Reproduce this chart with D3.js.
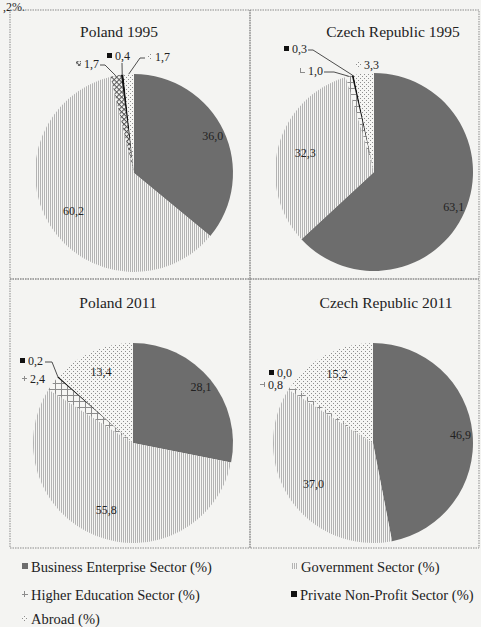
<!DOCTYPE html>
<html>
<head>
<meta charset="utf-8">
<script src="https://cdn.jsdelivr.net/npm/d3@7"></script>
</head>
<body style="margin:0;padding:0;background:#f4f4f2;">
<svg id="chart" width="481" height="627" style="display:block;background:#f4f4f2;"></svg>
<script>
// Sources of R&D funding, share of gross domestic expenditure (%)
const sectors = [
  "Business Enterprise Sector (%)",
  "Government Sector (%)",
  "Higher Education Sector (%)",
  "Private Non-Profit Sector (%)",
  "Abroad (%)"
];
const panelTitles = ["Poland 1995", "Czech Republic 1995", "Poland 2011", "Czech Republic 2011"];
const poland1995 = [36.0, 60.2, 1.7, 0.4, 1.7];
const czech1995  = [63.1, 32.3, 1.0, 0.3, 3.3];
const poland2011 = [28.1, 55.8, 2.4, 0.2, 13.4];
const czech2011  = [46.9, 37.0, 0.8, 0.0, 15.2];

const fmt = v => d3.format(".1f")(v).replace(".", ",");
const FONT = '"Liberation Serif", "Times New Roman", serif';

const svg = d3.select("#chart");
const defs = svg.append("defs");
const paper = "#f6f6f4";

function label(parent, x, y, size, str) {
  return parent.append("text").attr("x", x).attr("y", y)
    .style("font-family", FONT).style("font-size", size + "px").style("fill", "#222")
    .text(str);
}

// Fill patterns for each sector
function stripes(id) {
  const p = defs.append("pattern").attr("id", id).attr("patternUnits", "userSpaceOnUse")
    .attr("width", 2).attr("height", 2);
  p.append("rect").attr("width", 2).attr("height", 2).attr("fill", paper);
  p.append("rect").attr("width", 1).attr("height", 2).attr("fill", "#b3b3b3");
}
function dots(id) {
  const p = defs.append("pattern").attr("id", id).attr("patternUnits", "userSpaceOnUse")
    .attr("width", 4).attr("height", 4);
  p.append("rect").attr("width", 4).attr("height", 4).attr("fill", paper);
  p.append("rect").attr("x", 0).attr("y", 0).attr("width", 1).attr("height", 1).attr("fill", "#8e8e8e");
  p.append("rect").attr("x", 2).attr("y", 2).attr("width", 1).attr("height", 1).attr("fill", "#8e8e8e");
}
function grid(id, size, colour, rotate) {
  const p = defs.append("pattern").attr("id", id).attr("patternUnits", "userSpaceOnUse")
    .attr("width", size).attr("height", size);
  if (rotate) p.attr("patternTransform", `rotate(${rotate})`);
  p.append("rect").attr("width", size).attr("height", size).attr("fill", paper);
  p.append("rect").attr("width", size).attr("height", 1).attr("fill", colour);
  p.append("rect").attr("width", 1).attr("height", size).attr("fill", colour);
}
stripes("gov");
dots("abroad");
grid("he", 6, "#8c8c8c", 0);
grid("heDiag", 3.5, "#555", 45);

const baseFills = ["#6d6d6d", "url(#gov)", "url(#he)", "#111", "url(#abroad)"];
// Inside-label distance from centre, as a share of the radius
const insideFactor = [0.88, 0.72, 0.75, 0.75, 0.78];

const panels = [
  { title: panelTitles[0], values: poland1995, box: [10, 10, 250, 279], cx: 134, cy: 173, r: 99,
    titlePos: [119, 37], heFill: "url(#heDiag)",
    outside: {
      2: { x: 99, y: 68, anchor: "end", leader: [[100, 65], [105, 65]] },
      3: { x: 115, y: 60, anchor: "start", leader: [[122, 63]] },
      4: { x: 155, y: 61, anchor: "start", leader: [[145, 58], [140, 58]] }
    } },
  { title: panelTitles[1], values: czech1995, box: [250, 10, 479, 279], cx: 374, cy: 172, r: 99,
    titlePos: [393, 37], heFill: "url(#he)",
    outside: {
      2: { x: 323, y: 75, anchor: "end", leader: [[324, 72], [334, 72]] },
      3: { x: 307, y: 53, anchor: "end", leader: [[308, 50], [313, 50]] },
      4: { x: 364, y: 69, anchor: "start" }
    } },
  { title: panelTitles[2], values: poland2011, box: [10, 279, 250, 548], cx: 133, cy: 443, r: 100,
    titlePos: [118, 308], heFill: "url(#he)",
    outside: {
      2: { x: 45, y: 383, anchor: "end" },
      3: { x: 43, y: 365, anchor: "end", leader: [[45, 362], [52, 362]] }
    } },
  { title: panelTitles[3], values: czech2011, box: [250, 279, 479, 548], cx: 373, cy: 443, r: 100,
    titlePos: [386, 308], heFill: "url(#he)",
    outside: {
      2: { x: 283, y: 389, anchor: "end" },
      3: { x: 292, y: 377, anchor: "end" }
    } }
];

// Tail of the preceding line of text above the figure
label(svg, 3, 11, 12, ",2%.");

const pie = d3.pie().sort(null).value(d => d);

panels.forEach(pn => {
  const g = svg.append("g");
  const [x0, y0, x1, y1] = pn.box;
  g.append("rect").attr("x", x0).attr("y", y0).attr("width", x1 - x0).attr("height", y1 - y0)
    .attr("fill", "none").attr("stroke", "#8a8a8a").attr("stroke-width", 1)
    .attr("stroke-dasharray", "1.5,1");

  label(g, pn.titlePos[0], pn.titlePos[1], 15.5, pn.title).attr("text-anchor", "middle");

  const fills = baseFills.slice();
  fills[2] = pn.heFill;

  const arc = d3.arc().innerRadius(0).outerRadius(pn.r);
  const arcs = pie(pn.values);
  const pg = g.append("g").attr("transform", `translate(${pn.cx},${pn.cy})`);
  pg.selectAll("path").data(arcs).join("path")
    .attr("d", arc)
    .attr("fill", (d, i) => fills[i]);

  const rim = d => {
    const a = (d.startAngle + d.endAngle) / 2;
    return [pn.cx + pn.r * Math.sin(a), pn.cy - pn.r * Math.cos(a)];
  };

  arcs.forEach((d, i) => {
    const spec = pn.outside[i];
    if (!spec) {
      const a = (d.startAngle + d.endAngle) / 2;
      const k = pn.r * insideFactor[i];
      label(g, pn.cx + k * Math.sin(a), pn.cy - k * Math.cos(a), 12, fmt(d.data))
        .attr("dy", "0.35em").attr("text-anchor", "middle");
      return;
    }
    const t = label(g, spec.x, spec.y, 12, fmt(d.data)).attr("text-anchor", spec.anchor);
    const w = t.node().getComputedTextLength();
    const left = spec.anchor === "end" ? spec.x - w : spec.x;
    g.append("rect").attr("x", left - 8).attr("y", spec.y - 7)
      .attr("width", 5).attr("height", 5).attr("fill", fills[i]);
    if (spec.leader) {
      const pts = spec.leader.concat([rim(d)]);
      g.append("path").attr("d", d3.line()(pts))
        .attr("fill", "none").attr("stroke", "#3a3a3a").attr("stroke-width", 0.9);
    }
  });
});

// Legend
const legendPos = [[22, 572], [292, 572], [22, 600], [291, 600], [22, 624]];
const legendFills = ["#6d6d6d", "url(#gov)", "url(#he)", "#111", "url(#abroad)"];
const lg = svg.append("g");
sectors.forEach((s, i) => {
  const [x, y] = legendPos[i];
  lg.append("rect").attr("x", x).attr("y", y - 9).attr("width", 6).attr("height", 6)
    .attr("fill", legendFills[i]);
  label(lg, x + 9, y, 14.5, s);
});
</script>
</body>
</html>
